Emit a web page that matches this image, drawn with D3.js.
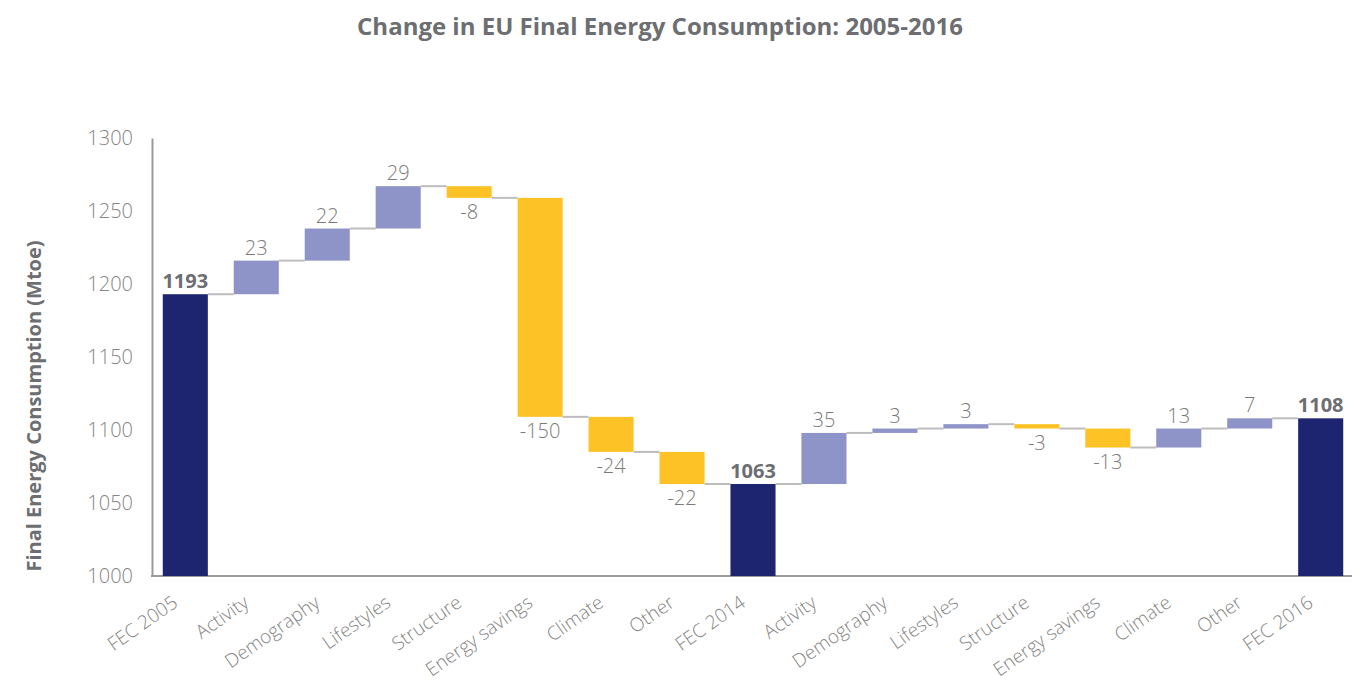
<!DOCTYPE html>
<html>
<head>
<meta charset="utf-8">
<script src="https://cdn.jsdelivr.net/npm/d3@7"></script>
<style>
  body { margin: 0; background: #fff; }
  text { font-family: "Open Sans", "Noto Sans", sans-serif; }
</style>
</head>
<body>
<svg id="canvas"></svg>
<script>
// categories and values (totals are absolute, others are changes)
const categories = ['FEC 2005', 'Activity', 'Demography', 'Lifestyles', 'Structure', 'Energy savings', 'Climate', 'Other',
	'FEC 2014', 'Activity', 'Demography', 'Lifestyles', 'Structure', 'Energy savings', 'Climate', 'Other', 'FEC 2016'];
const values = [1193, 23, 22, 29, -8, -150, -24, -22, 1063, 35, 3, 3, -3, -13, 13, 7, 1108];
const isTotal = [true, false, false, false, false, false, false, false, true, false, false, false, false, false, false, false, true];
const yTicks = [1000, 1050, 1100, 1150, 1200, 1250, 1300];

const w = 1360;
const h = 684;

const svg = d3.select('#canvas').attr('width', w).attr('height', h);

// build waterfall steps
let running = 0;
const steps = values.map((v, i) => {
	let start, end;
	if (isTotal[i]) {
		start = 1000;
		end = v;
		running = v;
	} else {
		start = running;
		end = running + v;
		running = end;
	}
	return { name: categories[i], value: v, total: isTotal[i], start: start, end: end, i: i };
});

const x = d3.scaleBand().domain(d3.range(categories.length)).range([150, 1356]).paddingInner(0.365).paddingOuter(0.18);
const y = d3.scaleLinear().domain([1000, 1300]).range([576, 138]);

// title
svg.append('text')
	.attr('x', 660).attr('y', 35)
	.attr('text-anchor', 'middle')
	.style('font-size', '24px').style('font-weight', 'bold').style('fill', '#6d6e71')
	.text('Change in EU Final Energy Consumption: 2005-2016');

// y axis title
svg.append('text')
	.attr('transform', 'translate(41,406) rotate(-90)')
	.attr('text-anchor', 'middle')
	.style('font-size', '20px').style('font-weight', 'bold').style('fill', '#6d6e71')
	.text('Final Energy Consumption (Mtoe)');

// y tick labels
const yAxis = d3.axisLeft(y).tickValues(yTicks).tickSize(0).tickPadding(19).tickFormat(d3.format('d'));
const gy = svg.append('g').attr('transform', 'translate(152,0)').call(yAxis);
gy.select('.domain').attr('stroke', '#9b9b9b').attr('stroke-width', 2);
gy.selectAll('text').style('font-size', '20px').style('fill', '#858585').style('font-weight', 300).style('font-family', '"Open Sans", "Noto Sans", sans-serif');

// x axis
const xAxis = d3.axisBottom(x).tickSize(0).tickFormat((d) => categories[d]);
const gx = svg.append('g').attr('transform', 'translate(0,576)').call(xAxis);
gx.select('.domain').attr('stroke', '#9b9b9b').attr('stroke-width', 2).attr('d', 'M151,0H1352');
gx.selectAll('.tick').attr('transform', (d) => 'translate(' + (x(d) + x.bandwidth() / 2) + ',0)');
gx.selectAll('text')
	.style('font-size', '19px').style('fill', '#858585').style('font-weight', 300).style('font-family', '"Open Sans", "Noto Sans", sans-serif')
	.attr('text-anchor', 'end')
	.attr('x', 0).attr('y', 0)
	.attr('dy', '0.35em')
	.attr('transform', 'translate(-10,24) rotate(-35)');

// connectors
svg.selectAll('.connector')
	.data(steps.slice(0, -1))
	.enter()
	.append('line')
	.attr('class', 'connector')
	.attr('x1', (d) => x(d.i) + x.bandwidth())
	.attr('x2', (d) => x(d.i + 1))
	.attr('y1', (d) => y(d.end))
	.attr('y2', (d) => y(d.end))
	.attr('stroke', '#bdbdbd')
	.attr('stroke-width', 2);

// bars
svg.selectAll('.bar')
	.data(steps)
	.enter()
	.append('rect')
	.attr('class', 'bar')
	.attr('x', (d) => x(d.i))
	.attr('width', x.bandwidth())
	.attr('y', (d) => y(Math.max(d.start, d.end)))
	.attr('height', (d) => Math.abs(y(d.start) - y(d.end)))
	.attr('fill', (d) => {
		if (d.total) return '#1d2570';
		return d.value >= 0 ? '#8e93c8' : '#fdc326';
	});

// value labels
svg.selectAll('.label')
	.data(steps)
	.enter()
	.append('text')
	.attr('class', 'label')
	.attr('x', (d) => x(d.i) + x.bandwidth() / 2)
	.attr('y', (d) => {
		if (d.total || d.value >= 0) return y(Math.max(d.start, d.end)) - 6;
		return y(d.end) + 21;
	})
	.attr('text-anchor', 'middle')
	.style('font-size', '20px')
	.style('font-weight', (d) => (d.total ? 'bold' : 300))
	.style('fill', (d) => (d.total ? '#6d6e71' : '#7a7a7a'))
	.text((d) => d.value);
</script>
</body>
</html>
